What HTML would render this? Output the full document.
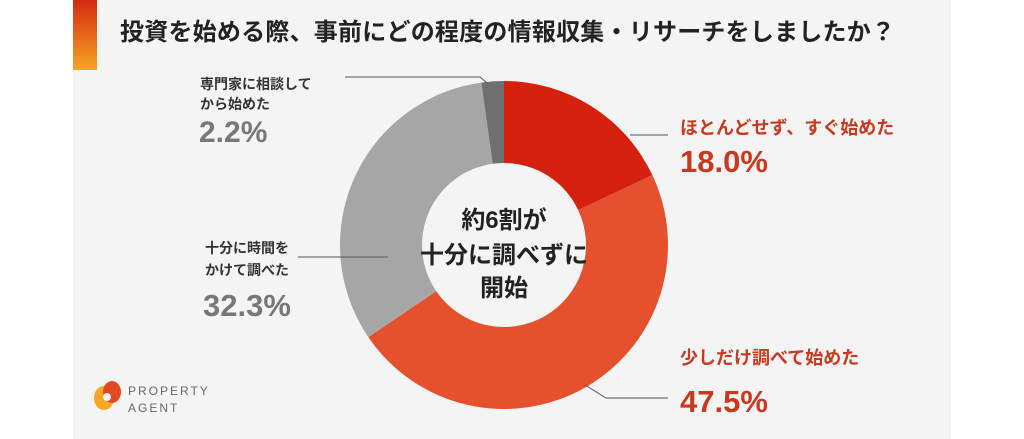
<!DOCTYPE html>
<html><head><meta charset="utf-8"><style>
html,body{margin:0;padding:0;background:#fff;}
body{width:1024px;height:439px;position:relative;overflow:hidden;font-family:"Liberation Sans","Noto Sans CJK JP",sans-serif;}
#panel{position:absolute;left:73px;top:0;width:878px;height:439px;background:#f4f4f5;}
</style></head><body>
<div id="panel"></div>
<svg width="1024" height="439" style="position:absolute;left:0;top:0">
<defs><linearGradient id="bar" x1="0" y1="0" x2="0" y2="1"><stop offset="0" stop-color="#d42a10"/><stop offset="1" stop-color="#f5a623"/></linearGradient></defs>
<rect x="73" y="0" width="24" height="70" fill="url(#bar)"/>
<text x="120" y="40" font-size="24" font-weight="bold" fill="#222" textLength="775" lengthAdjust="spacing">投資を始める際、事前にどの程度の情報収集・リサーチをしましたか？</text>
<g id="slices"></g>
<text text-anchor="middle" font-size="24" font-weight="bold" fill="#222"><tspan x="504" y="228">約6割が</tspan><tspan x="504" y="263">十分に調べずに</tspan><tspan x="504" y="296">開始</tspan></text>
<g stroke="#555" stroke-width="1" fill="none">
<polyline points="630,135 668,135"/>
<polyline points="585,385 606,398 668,398"/>
<polyline points="345,77 480,77 487,83"/>
<polyline points="298,257 388,257"/>
</g>
<text x="680" y="134" font-size="18" font-weight="bold" fill="#c8391e">ほとんどせず、すぐ始めた</text>
<text x="680" y="172" font-size="31" font-weight="bold" fill="#c8391e">18.0%</text>
<text x="680" y="364" font-size="18" font-weight="bold" fill="#c8391e">少しだけ調べて始めた</text>
<text x="680" y="412" font-size="31" font-weight="bold" fill="#c8391e">47.5%</text>
<text font-size="14" font-weight="bold" fill="#333"><tspan x="200" y="89">専門家に相談して</tspan><tspan x="200" y="109">から始めた</tspan></text>
<text x="199" y="142" font-size="30" font-weight="bold" fill="#777">2.2%</text>
<text font-size="14" font-weight="bold" fill="#333"><tspan x="205" y="253">十分に時間を</tspan><tspan x="205" y="275">かけて調べた</tspan></text>
<text x="203" y="316" font-size="31" font-weight="bold" fill="#777">32.3%</text>
<g>
<ellipse cx="104" cy="398" rx="10" ry="12" fill="#f5a623"/>
<ellipse cx="112" cy="392" rx="9" ry="11" fill="#e04a22"/>
<circle cx="107" cy="397" r="4" fill="#f4f4f5"/>
<text x="128" y="395" font-size="12" fill="#666" letter-spacing="2">PROPERTY</text>
<text x="128" y="412" font-size="12" fill="#666" letter-spacing="2">AGENT</text>
</g>
</svg>
<script>
const categories=["ほとんどせず、すぐ始めた","少しだけ調べて始めた","十分に時間をかけて調べた","専門家に相談してから始めた"];
const values=[18.0,47.5,32.3,2.2];
const colors=["#d4200c","#e4512c","#a6a6a6","#6f6f6f"];
const cx=504,cy=245,R=164,r=82;
const g=document.getElementById('slices');
const total=values.reduce((a,b)=>a+b,0);
let acc=0;
function pt(rad,a){return [cx+rad*Math.sin(a),cy-rad*Math.cos(a)];}
values.forEach((v,i)=>{
 const a0=acc/total*2*Math.PI; acc+=v; const a1=acc/total*2*Math.PI;
 const large=(a1-a0)>Math.PI?1:0;
 const p0=pt(R,a0),p1=pt(R,a1),q1=pt(r,a1),q0=pt(r,a0);
 const p=document.createElementNS('http://www.w3.org/2000/svg','path');
 p.setAttribute('d',`M${p0[0]},${p0[1]} A${R},${R} 0 ${large} 1 ${p1[0]},${p1[1]} L${q1[0]},${q1[1]} A${r},${r} 0 ${large} 0 ${q0[0]},${q0[1]} Z`);
 p.setAttribute('fill',colors[i]);
 
 
 g.appendChild(p);
});
</script>
</body></html>
